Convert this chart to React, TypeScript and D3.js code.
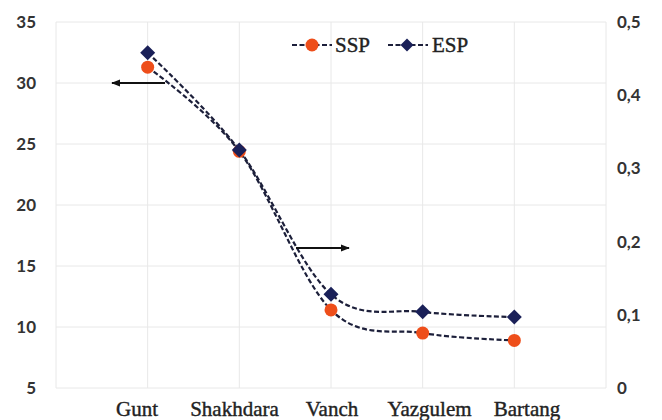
import React, { useEffect, useRef } from 'react';
import * as d3 from 'd3';

const categories = ['Gunt', 'Shakhdara', 'Vanch', 'Yazgulem', 'Bartang'];
// SSP read on the left axis, ESP on the right axis (see arrows)
const ssp = [31.3, 24.4, 11.4, 9.5, 8.9];
const esp = [0.458, 0.325, 0.128, 0.104, 0.097];
const leftTicks = [5, 10, 15, 20, 25, 30, 35];
const rightTicks = [0, 0.1, 0.2, 0.3, 0.4, 0.5];

const App = () => {
  const ref = useRef<SVGSVGElement>(null);

  useEffect(() => {
    const w = 662;
    const h = 420;
    const m = { left: 56, right: 56, top: 22, bottom: 32 };

    const svg = d3.select(ref.current);
    svg.selectAll('*').remove();

    const x = d3.scaleLinear().domain([0, categories.length + 1]).range([m.left, w - m.right]);
    const yL = d3.scaleLinear().domain([5, 35]).range([h - m.bottom, m.top]);
    const yR = d3.scaleLinear().domain([0, 0.5]).range([h - m.bottom, m.top]);
    // category labels sit in their own text boxes, spread slightly wider than the points
    const xLab = d3.scalePoint().domain(categories).range([137, 527]);

    const grid = svg.append('g').attr('stroke', '#e8e8e8').attr('stroke-width', 1);
    d3.range(0, categories.length + 2).forEach(i => {
      grid.append('line')
        .attr('x1', x(i)).attr('x2', x(i))
        .attr('y1', yL(35)).attr('y2', yL(5));
    });
    leftTicks.forEach(t => {
      grid.append('line')
        .attr('x1', x(0)).attr('x2', x(categories.length + 1))
        .attr('y1', yL(t)).attr('y2', yL(t));
    });

    // left axis labels
    svg.append('g').selectAll('text').data(leftTicks).enter().append('text')
      .attr('x', 36).attr('y', d => yL(d) + 6)
      .attr('text-anchor', 'end')
      .attr('font-family', 'Lato')
      .attr('font-weight', 'bold')
      .attr('font-size', 17)
      .attr('fill', '#333')
      .text(d => d);

    // right axis labels
    svg.append('g').selectAll('text').data(rightTicks).enter().append('text')
      .attr('x', 617).attr('y', d => yR(d) + 6)
      .attr('text-anchor', 'start')
      .attr('font-family', 'Lato')
      .attr('font-weight', 'bold')
      .attr('font-size', 17)
      .attr('fill', '#333')
      .text(d => d === 0 ? '0' : String(d).replace('.', ','));

    // category labels
    svg.append('g').selectAll('text').data(categories).enter().append('text')
      .attr('x', d => xLab(d)!).attr('y', 416)
      .attr('text-anchor', 'middle')
      .attr('font-family', 'Liberation Serif')
      .attr('font-size', 21)
      .attr('fill', '#222').attr('stroke', '#222').attr('stroke-width', 0.4)
      .text(d => d);

    const curve = d3.curveCardinal.tension(0);
    const lineL = d3.line<number>().x((d, i) => x(i + 1)).y(d => yL(d)).curve(curve);
    const lineR = d3.line<number>().x((d, i) => x(i + 1)).y(d => yR(d)).curve(curve);

    svg.append('path').attr('d', lineL(ssp))
      .attr('fill', 'none').attr('stroke', '#1c1f3a')
      .attr('stroke-width', 2.2).attr('stroke-dasharray', '5,2.5');
    svg.append('path').attr('d', lineR(esp))
      .attr('fill', 'none').attr('stroke', '#1c1f3a')
      .attr('stroke-width', 2.2).attr('stroke-dasharray', '5,2.5');

    const diamond = (cx: number, cy: number, r: number) =>
      `M${cx},${cy - r}L${cx + r},${cy}L${cx},${cy + r}L${cx - r},${cy}Z`;

    svg.append('g').selectAll('circle').data(ssp).enter().append('circle')
      .attr('cx', (d, i) => x(i + 1)).attr('cy', d => yL(d))
      .attr('r', 6.5).attr('fill', '#ee4e1a');
    svg.append('g').selectAll('path').data(esp).enter().append('path')
      .attr('d', (d, i) => diamond(x(i + 1), yR(d), 7.5))
      .attr('fill', '#1a2058');

    // arrows
    const defs = svg.append('defs');
    defs.append('marker').attr('id', 'arr')
      .attr('viewBox', '0 0 10 10').attr('refX', 9).attr('refY', 5)
      .attr('markerWidth', 5).attr('markerHeight', 5).attr('orient', 'auto')
      .append('path').attr('d', 'M0,1L10,5L0,9Z').attr('fill', '#111');
    svg.append('line')
      .attr('x1', 165).attr('y1', yL(30)).attr('x2', 112).attr('y2', yL(30))
      .attr('stroke', '#111').attr('stroke-width', 1.8).attr('marker-end', 'url(#arr)');
    svg.append('line')
      .attr('x1', 296).attr('y1', 248).attr('x2', 349).attr('y2', 248)
      .attr('stroke', '#111').attr('stroke-width', 1.8).attr('marker-end', 'url(#arr)');

    // legend
    const leg = svg.append('g');
    const ly = 45;
    leg.append('line').attr('x1', 292).attr('x2', 332).attr('y1', ly).attr('y2', ly)
      .attr('stroke', '#1c1f3a').attr('stroke-width', 2.2).attr('stroke-dasharray', '5,2.5');
    leg.append('circle').attr('cx', 312).attr('cy', ly).attr('r', 6.5).attr('fill', '#ee4e1a');
    leg.append('text').attr('x', 335).attr('y', ly + 7)
      .attr('font-family', 'Liberation Serif').attr('font-size', 21)
      .attr('fill', '#222').attr('stroke', '#222').attr('stroke-width', 0.4).text('SSP');
    leg.append('line').attr('x1', 388).attr('x2', 428).attr('y1', ly).attr('y2', ly)
      .attr('stroke', '#1c1f3a').attr('stroke-width', 2.2).attr('stroke-dasharray', '5,2.5');
    leg.append('path').attr('d', diamond(407, ly, 6.5)).attr('fill', '#1a2058');
    leg.append('text').attr('x', 432).attr('y', ly + 7)
      .attr('font-family', 'Liberation Serif').attr('font-size', 21)
      .attr('fill', '#222').attr('stroke', '#222').attr('stroke-width', 0.4).text('ESP');
  }, []);

  return <svg ref={ref} width={662} height={420} style={{ position: 'absolute', left: 0, top: 0 }}></svg>;
};

export default App;
